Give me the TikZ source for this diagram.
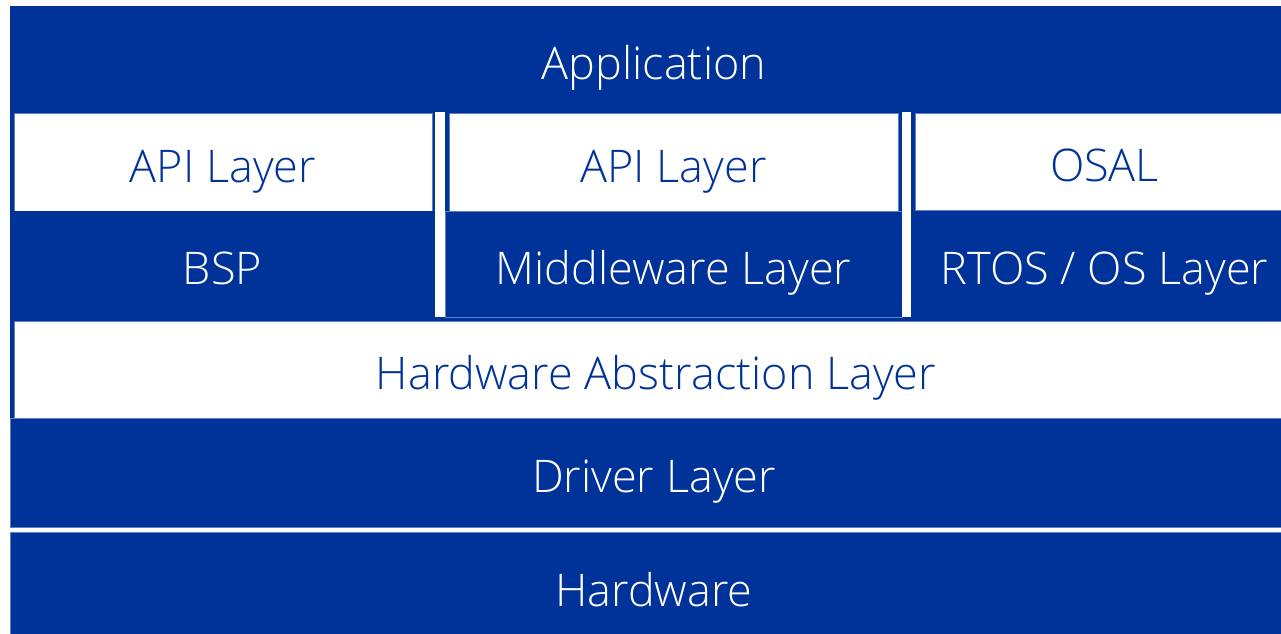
\documentclass[tikz,border=0pt]{standalone}
\usepackage{fontspec}
\IfFontExistsTF{Open Sans Light}{\setmainfont{Open Sans Light}}{\setmainfont{Open Sans}}
\definecolor{slideblue}{RGB}{0,51,153}
\definecolor{edgeblue}{RGB}{96,128,192}

\begin{document}
\begin{tikzpicture}[x=1pt,y=-1pt,
    layer/.style={rectangle, inner sep=0pt, outer sep=0pt, line width=0.8pt,
        font=\fontsize{45}{54}\selectfont, text height=40pt, text depth=0pt},
    bluelayer/.style={layer, fill=slideblue, text=white},
    whitelayer/.style={layer, fill=white, draw=edgeblue, text=slideblue},
    sizes/.style 2 args={minimum width=#1pt, minimum height=#2pt}]
    \useasboundingbox (0,0) rectangle (1281,633);
    \clip (0,0) rectangle (1281,633);
    % backdrop behind the stack
    \fill [slideblue] (10,6) rectangle (1298,527);
    \node [bluelayer, sizes={1288}{107}] (app) at (654,59.5) {Application};
    % second row
    \node [whitelayer, sizes={418}{98}] (apileft) at (223,162) {API Layer};
    \node [whitelayer, sizes={449}{98}] (apimid) at (673.5,162) {API Layer};
    \node [whitelayer, sizes={379}{97}] (osal) at (1104.5,161.5) {OSAL};
    % third row
    \node [bluelayer, sizes={425}{106}] (bsp) at (222.5,264) {BSP};
    \node [bluelayer, draw=edgeblue, sizes={457}{106}] (mw) at (673.5,264) {Middleware Layer};
    \node [bluelayer, sizes={387}{106}] (rtos) at (1104.5,264) {RTOS / OS Layer};
    % separators between the columns
    \fill [white] (435,112) rectangle (445,317);
    \fill [white] (902,112) rectangle (911,317);
    % lower layers
    \node [whitelayer, sizes={1284}{97}] (hal) at (656,369.5) {Hardware Abstraction Layer};
    \node [bluelayer, draw=edgeblue, sizes={1288}{109}] (drv) at (654,472.5) {Driver Layer};
    \node [bluelayer, draw=edgeblue, sizes={1288}{109}] (hw) at (654,586.5) {Hardware};
\end{tikzpicture}
\end{document}
